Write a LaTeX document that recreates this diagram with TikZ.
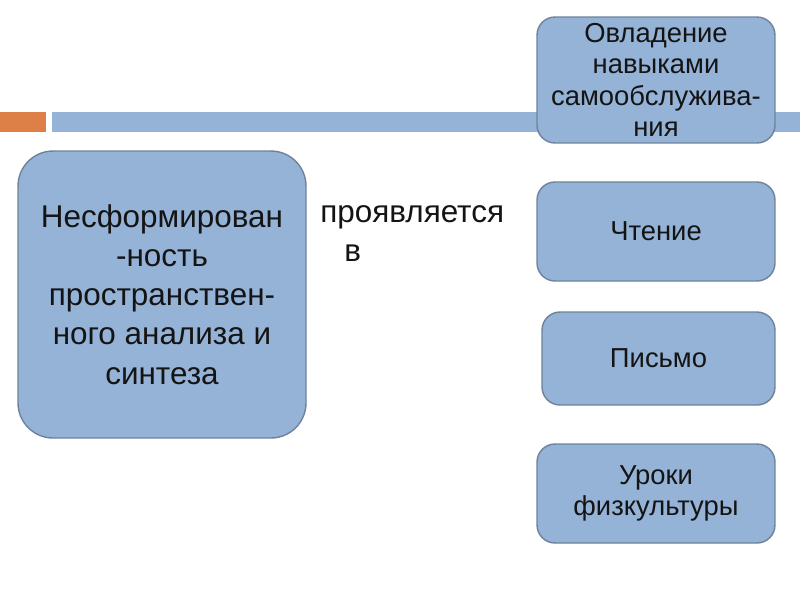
\documentclass[tikz,border=0pt]{standalone}
\usepackage{fontspec}
\setmainfont{Liberation Sans}
\definecolor{boxblue}{RGB}{149,179,215}
\definecolor{boxedge}{RGB}{110,130,155}
\definecolor{barorange}{RGB}{221,128,71}
\definecolor{txt}{RGB}{20,20,20}
\begin{document}
\begin{tikzpicture}[x=0.02cm,y=-0.02cm,
  bigbox/.style={draw=boxedge, line width=0.8pt, fill=boxblue, rounded corners=0.7cm, align=center, inner sep=0pt, text=txt, font=\fontsize{17.9}{22.3}\selectfont},
  smallbox/.style={draw=boxedge, line width=0.8pt, fill=boxblue, rounded corners=0.36cm, align=center, inner sep=0pt, text=txt, font=\fontsize{15.6}{17.9}\selectfont},
  bar/.style={draw=none, inner sep=0pt}]
\useasboundingbox[fill=white] (0,0) rectangle (800,600);
% header bars
\node[bar, fill=barorange, minimum width=0.92cm, minimum height=0.4cm] (orange) at (23,122) {};
\node[bar, fill=boxblue, minimum width=14.96cm, minimum height=0.4cm] (bluebar) at (426,122) {};
% left box
\node[bigbox, minimum width=5.76cm, minimum height=5.74cm] (main) at (162,294.5)
  {Несформирован\\-ность\\пространствен-\\ного анализа и\\синтеза};
% label
\node[anchor=north west, inner sep=0pt, align=left, text=txt, font=\fontsize{17.9}{22.3}\selectfont] (lbl) at (320,205)
  {проявляется\\\hspace*{0.48cm}в};
% right boxes
\node[smallbox, minimum width=4.76cm, minimum height=2.52cm] (b1) at (656,80)
  {Овладение\\навыками\\самообслужива-\\ния};
\node[smallbox, minimum width=4.76cm, minimum height=1.98cm] (b2) at (656,231.5) {Чтение};
\node[smallbox, minimum width=4.66cm, minimum height=1.86cm] (b3) at (658.5,358.5) {Письмо};
\node[smallbox, minimum width=4.76cm, minimum height=1.98cm] (b4) at (656,493.5) {Уроки\\физкультуры};
\end{tikzpicture}
\end{document}
